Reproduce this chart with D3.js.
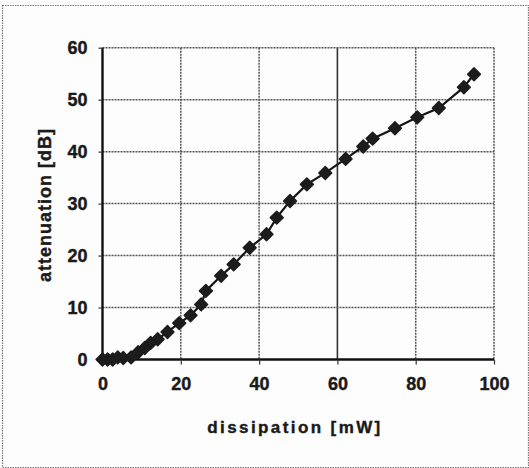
<!DOCTYPE html>
<html>
<head>
<meta charset="utf-8">
<script src="https://cdn.jsdelivr.net/npm/d3@7"></script>
<style>
  body { margin: 0; background: #fdfdfd; }
  svg { display: block; }
  text { font-family: "Liberation Sans", Arial, sans-serif; font-weight: bold; fill: #1a1a1a; }
</style>
</head>
<body>
<svg id="chart" width="529" height="468"></svg>
<script>
var dissipation = [0, 1.3, 2.6, 3.9, 5.3, 7.3, 9.1, 10.8, 12.3, 14.1, 16.6, 19.6, 22.5, 25.2, 26.4,
    30.3, 33.5, 37.6, 41.9, 44.5, 47.9, 52.2, 56.9, 62.1, 66.6, 69.0, 74.7, 80.4, 85.9, 92.3, 94.9];
var attenuation = [0, 0, 0, 0.4, 0.3, 0.4, 1.4, 2.2, 3.2, 3.9, 5.3, 7.0, 8.5, 10.6, 13.2,
    16.1, 18.3, 21.5, 24.1, 27.3, 30.5, 33.7, 35.9, 38.6, 41.0, 42.5, 44.5, 46.6, 48.4, 52.4, 54.9];
var xTicks = [0, 20, 40, 60, 80, 100];
var yTicks = [0, 10, 20, 30, 40, 50, 60];

var svg = d3.select('#chart');

// plot box (window.top is reserved, so plain names with a prefix)
var plotLeft = 102.5, plotRight = 494, plotTop = 47.7, plotBottom = 359.5;

var x = d3.scaleLinear().domain([0, 100]).range([plotLeft, plotRight]);
var y = d3.scaleLinear().domain([0, 60]).range([plotBottom, plotTop]);

// outer frame
svg.append('rect')
    .attr('x', 2.5).attr('y', 5.5)
    .attr('width', 526).attr('height', 462)
    .attr('fill', 'none')
    .attr('stroke', '#777')
    .attr('stroke-width', 1.2)
    .attr('stroke-dasharray', '1.5,1');

// grid
svg.append('g')
    .selectAll('line')
    .data(xTicks.slice(1))
    .join('line')
    .attr('x1', d => x(d)).attr('x2', d => x(d))
    .attr('y1', plotTop).attr('y2', plotBottom)
    .attr('stroke', d => d == 60 ? '#333' : '#555')
    .attr('stroke-width', d => d == 60 ? 1.6 : 1.5)
    .attr('stroke-dasharray', d => d == 60 ? null : '2,1');

svg.append('g')
    .selectAll('line')
    .data(yTicks.slice(1))
    .join('line')
    .attr('x1', plotLeft).attr('x2', plotRight)
    .attr('y1', d => y(d)).attr('y2', d => y(d))
    .attr('stroke', '#555')
    .attr('stroke-width', 1.5)
    .attr('stroke-dasharray', '2,1');

// axes
var xAxis = d3.axisBottom(x).tickValues(xTicks).tickSize(5).tickPadding(13);
var yAxis = d3.axisLeft(y).tickValues(yTicks).tickSize(4).tickPadding(11);

var gx = svg.append('g').attr('transform', 'translate(0,' + plotBottom + ')').call(xAxis);
var gy = svg.append('g').attr('transform', 'translate(' + plotLeft + ',0)').call(yAxis);

[gx, gy].forEach(function(g){
    g.select('.domain').attr('stroke', '#111').attr('stroke-width', 2.4);
    g.selectAll('.tick line').attr('stroke', '#333').attr('stroke-width', 1.2);
    g.selectAll('.tick text')
        .attr('font-size', 18)
        .attr('font-family', '"Liberation Sans", Arial, sans-serif')
        .attr('font-weight', 'bold')
        .attr('fill', '#1a1a1a')
        .attr('stroke', '#1a1a1a')
        .attr('stroke-width', 0.4);
});
gx.select('.domain').attr('d', 'M' + plotLeft + ',0H' + plotRight);
gy.select('.domain').attr('d', 'M0,' + plotBottom + 'V' + plotTop);
gy.selectAll('.tick text').attr('dy', '0.34em');

// the series
var points = dissipation.map((d, i) => [d, attenuation[i]]);

svg.append('path')
    .datum(points)
    .attr('fill', 'none')
    .attr('stroke', '#151515')
    .attr('stroke-width', 2.2)
    .attr('d', d3.line().x(d => x(d[0])).y(d => y(d[1])));

var diamond = d3.symbol().type(d3.symbolDiamond2).size(105);

svg.append('g')
    .selectAll('path')
    .data(points)
    .join('path')
    .attr('transform', d => 'translate(' + x(d[0]) + ',' + y(d[1]) + ')')
    .attr('d', diamond)
    .attr('fill', '#1c1c1c')
    .attr('stroke', '#1c1c1c')
    .attr('stroke-width', 1.5)
    .attr('stroke-linejoin', 'round');

// axis titles
svg.append('text')
    .attr('x', 295).attr('y', 433)
    .attr('text-anchor', 'middle')
    .attr('font-size', 17)
    .attr('letter-spacing', 2.4)
    .attr('stroke', '#1a1a1a')
    .attr('stroke-width', 0.4)
    .text('dissipation [mW]');

svg.append('text')
    .attr('transform', 'translate(51,205) rotate(-90)')
    .attr('text-anchor', 'middle')
    .attr('font-size', 18)
    .attr('letter-spacing', 1)
    .attr('stroke', '#1a1a1a')
    .attr('stroke-width', 0.4)
    .text('attenuation [dB]');
</script>
</body>
</html>
